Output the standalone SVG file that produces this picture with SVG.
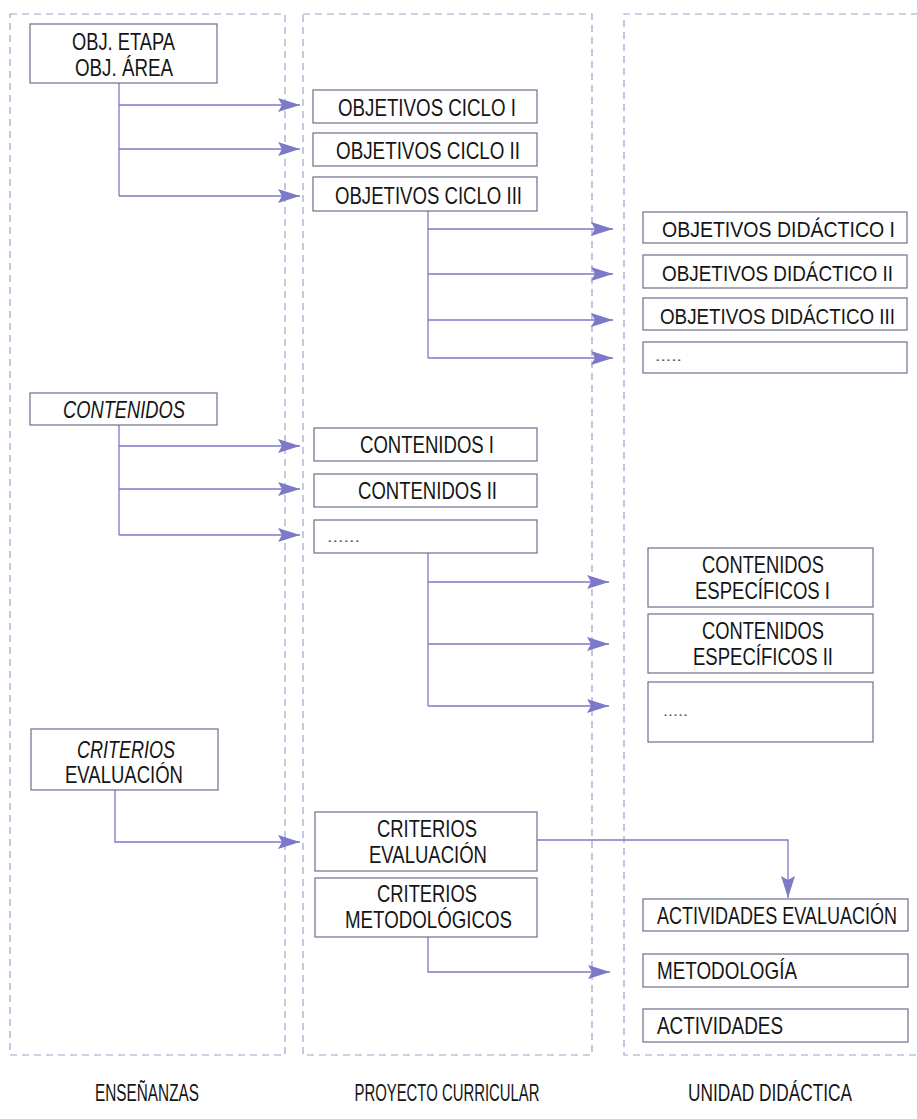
<svg xmlns="http://www.w3.org/2000/svg" width="917" height="1119" viewBox="0 0 917 1119">
<defs>
<marker id="ah" markerUnits="userSpaceOnUse" markerWidth="24" markerHeight="14" refX="22" refY="7" orient="auto">
<path d="M0,0 L22,7 L0,14 L4,7 z" fill="#7d79c9"/>
</marker>
<style>
.panel{fill:none;stroke:#a0a0cc;stroke-width:1.2;stroke-dasharray:7 5}
.box{fill:#fff;stroke:#6e6e8c;stroke-width:1.2}
.t{font-family:"Liberation Sans",Arial,sans-serif;font-size:24px;fill:#151515}
.s{font-size:22px}
.i{font-style:italic}
.d{font-size:14px;fill:#555}
.lbl{font-family:"Liberation Sans",Arial,sans-serif;font-size:23px;fill:#151515;text-anchor:middle}
.c{fill:none;stroke:#7d79c9;stroke-width:1.3}
</style>
</defs>
<rect width="917" height="1119" fill="#fff"/>
<g id="panels">
<rect class="panel" x="10" y="14" width="275" height="1041"/>
<rect class="panel" x="303" y="14" width="289" height="1041"/>
<path class="panel" d="M930,14 H624 V1055 H930"/>
</g>
<g id="connectors">
<path class="c" d="M119,83 V196"/>
<path class="c" d="M119,105 H300" marker-end="url(#ah)"/>
<path class="c" d="M119,149 H300" marker-end="url(#ah)"/>
<path class="c" d="M119,196 H300" marker-end="url(#ah)"/>
<path class="c" d="M428,211 V358"/>
<path class="c" d="M428,229 H613" marker-end="url(#ah)"/>
<path class="c" d="M428,274 H613" marker-end="url(#ah)"/>
<path class="c" d="M428,320 H613" marker-end="url(#ah)"/>
<path class="c" d="M428,358 H613" marker-end="url(#ah)"/>
<path class="c" d="M119,425 V535"/>
<path class="c" d="M119,446 H300" marker-end="url(#ah)"/>
<path class="c" d="M119,489 H300" marker-end="url(#ah)"/>
<path class="c" d="M119,535 H300" marker-end="url(#ah)"/>
<path class="c" d="M428,553 V706"/>
<path class="c" d="M428,582 H609" marker-end="url(#ah)"/>
<path class="c" d="M428,644 H609" marker-end="url(#ah)"/>
<path class="c" d="M428,706 H609" marker-end="url(#ah)"/>
<path class="c" d="M115,790 V842 H300" marker-end="url(#ah)"/>
<path class="c" d="M537,840 H788 V898" marker-end="url(#ah)"/>
<path class="c" d="M428,937 V972 H610" marker-end="url(#ah)"/>
</g>
<g id="n-obj-etapa"><rect class="box" x="30" y="24" width="187" height="59"/>
<text class="t" x="72" y="50" textLength="103" lengthAdjust="spacingAndGlyphs">OBJ. ETAPA</text>
<text class="t" x="75" y="76" textLength="98" lengthAdjust="spacingAndGlyphs">OBJ. ÁREA</text></g>
<g id="n-ciclo1"><rect class="box" x="313" y="90" width="224" height="33"/>
<text class="t" x="338" y="116" textLength="178" lengthAdjust="spacingAndGlyphs">OBJETIVOS CICLO I</text></g>
<g id="n-ciclo2"><rect class="box" x="313" y="133" width="224" height="33"/>
<text class="t" x="336" y="159" textLength="184" lengthAdjust="spacingAndGlyphs">OBJETIVOS CICLO II</text></g>
<g id="n-ciclo3"><rect class="box" x="313" y="177" width="224" height="34"/>
<text class="t" x="335" y="204" textLength="187" lengthAdjust="spacingAndGlyphs">OBJETIVOS CICLO III</text></g>
<g id="n-did1"><rect class="box" x="643" y="212" width="264" height="31"/>
<text class="t s" x="662" y="237" textLength="233" lengthAdjust="spacingAndGlyphs">OBJETIVOS DIDÁCTICO I</text></g>
<g id="n-did2"><rect class="box" x="643" y="255" width="264" height="33"/>
<text class="t s" x="662" y="281" textLength="231" lengthAdjust="spacingAndGlyphs">OBJETIVOS DIDÁCTICO II</text></g>
<g id="n-did3"><rect class="box" x="643" y="298" width="264" height="32"/>
<text class="t s" x="660" y="324" textLength="235" lengthAdjust="spacingAndGlyphs">OBJETIVOS DIDÁCTICO III</text></g>
<g id="n-did-more"><rect class="box" x="643" y="342" width="264" height="31"/>
<text class="t d" x="655" y="361" textLength="27" lengthAdjust="spacingAndGlyphs">.....</text></g>
<g id="n-contenidos"><rect class="box" x="30" y="393" width="187" height="32"/>
<text class="t i" x="63" y="418" textLength="122" lengthAdjust="spacingAndGlyphs">CONTENIDOS</text></g>
<g id="n-cont1"><rect class="box" x="314" y="428" width="223" height="33"/>
<text class="t" x="360" y="453" textLength="134" lengthAdjust="spacingAndGlyphs">CONTENIDOS I</text></g>
<g id="n-cont2"><rect class="box" x="314" y="474" width="223" height="33"/>
<text class="t" x="358" y="499" textLength="139" lengthAdjust="spacingAndGlyphs">CONTENIDOS II</text></g>
<g id="n-cont-more"><rect class="box" x="314" y="520" width="223" height="33"/>
<text class="t d" x="327" y="542" textLength="33" lengthAdjust="spacingAndGlyphs">......</text></g>
<g id="n-ce1"><rect class="box" x="648" y="548" width="225" height="59"/>
<text class="t" x="702" y="573" textLength="122" lengthAdjust="spacingAndGlyphs">CONTENIDOS</text>
<text class="t" x="695" y="599" textLength="135" lengthAdjust="spacingAndGlyphs">ESPECÍFICOS I</text></g>
<g id="n-ce2"><rect class="box" x="648" y="614" width="225" height="59"/>
<text class="t" x="702" y="639" textLength="122" lengthAdjust="spacingAndGlyphs">CONTENIDOS</text>
<text class="t" x="693" y="665" textLength="140" lengthAdjust="spacingAndGlyphs">ESPECÍFICOS II</text></g>
<g id="n-ce-more"><rect class="box" x="648" y="682" width="225" height="60"/>
<text class="t d" x="663" y="716" textLength="25" lengthAdjust="spacingAndGlyphs">.....</text></g>
<g id="n-crit-left"><rect class="box" x="31" y="729" width="187" height="61"/>
<text class="t i" x="77" y="758" textLength="98" lengthAdjust="spacingAndGlyphs">CRITERIOS</text>
<text class="t" x="65" y="783" textLength="118" lengthAdjust="spacingAndGlyphs">EVALUACIÓN</text></g>
<g id="n-crit-eval"><rect class="box" x="315" y="812" width="222" height="59"/>
<text class="t" x="377" y="837" textLength="100" lengthAdjust="spacingAndGlyphs">CRITERIOS</text>
<text class="t" x="369" y="863" textLength="118" lengthAdjust="spacingAndGlyphs">EVALUACIÓN</text></g>
<g id="n-crit-met"><rect class="box" x="315" y="878" width="222" height="59"/>
<text class="t" x="377" y="902" textLength="100" lengthAdjust="spacingAndGlyphs">CRITERIOS</text>
<text class="t" x="345" y="928" textLength="167" lengthAdjust="spacingAndGlyphs">METODOLÓGICOS</text></g>
<g id="n-act-eval"><rect class="box" x="643" y="899" width="265" height="32"/>
<text class="t" x="657" y="924" textLength="240" lengthAdjust="spacingAndGlyphs">ACTIVIDADES EVALUACIÓN</text></g>
<g id="n-metodologia"><rect class="box" x="643" y="954" width="265" height="33"/>
<text class="t" x="657" y="979" textLength="140" lengthAdjust="spacingAndGlyphs">METODOLOGÍA</text></g>
<g id="n-actividades"><rect class="box" x="643" y="1009" width="265" height="33"/>
<text class="t" x="657" y="1034" textLength="126" lengthAdjust="spacingAndGlyphs">ACTIVIDADES</text></g>
<g id="labels">
<text class="lbl" x="147" y="1101" textLength="104" lengthAdjust="spacingAndGlyphs">ENSEÑANZAS</text>
<text class="lbl" x="447" y="1101" textLength="185" lengthAdjust="spacingAndGlyphs">PROYECTO CURRICULAR</text>
<text class="lbl" x="770" y="1101" textLength="164" lengthAdjust="spacingAndGlyphs">UNIDAD DIDÁCTICA</text>
</g>
</svg>
